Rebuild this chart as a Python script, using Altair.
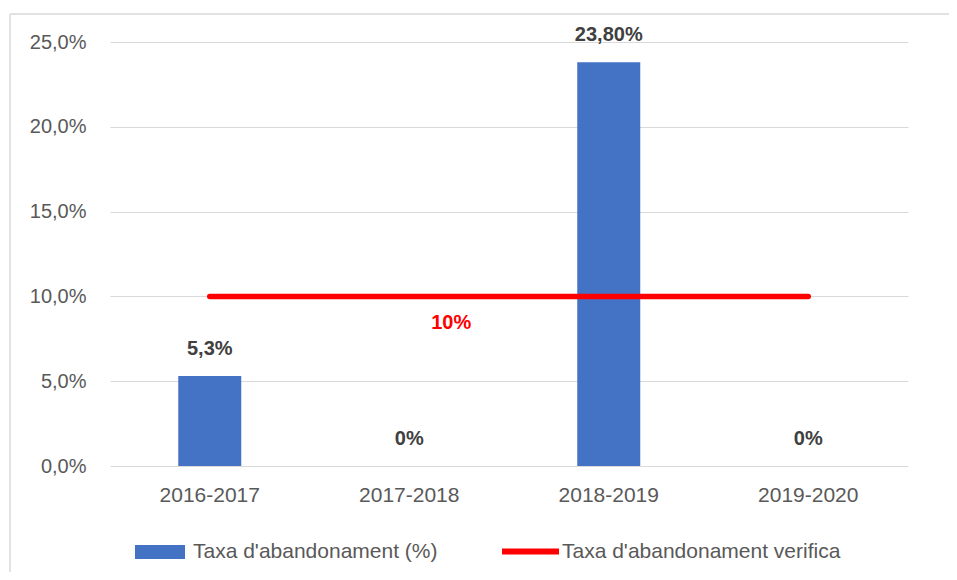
import altair as alt
import pandas as pd

# ---- data ----
categories = ["2016-2017", "2017-2018", "2018-2019", "2019-2020"]
dropout_rate = [5.3, 0.0, 23.8, 0.0]            # Taxa d'abandonament (%)
dropout_labels = ["5,3%", "0%", "23,80%", "0%"]
verified_rate = [10.0, 10.0, 10.0, 10.0]        # Taxa d'abandonament verifica
verified_label_cat = ["2017-2018"]
verified_label_val = [10.0]
verified_label_txt = ["10%"]
y_ticks = [0, 5, 10, 15, 20, 25]

series_bar = "Taxa d'abandonament (%)"
series_line = "Taxa d'abandonament verifica"

bars_df = pd.DataFrame({"cat": categories, "val": dropout_rate,
                        "lbl": dropout_labels, "serie": series_bar})
line_df = pd.DataFrame({"cat": categories, "val": verified_rate,
                        "serie": series_line})
line_lbl_df = pd.DataFrame({"cat": verified_label_cat, "val": verified_label_val,
                            "lbl": verified_label_txt})

FONT = "Liberation Sans"
GRAY = "#595959"
BLUE = "#4472C4"
RED = "#FF0000"

x_enc = alt.X("cat:N", sort=categories, title=None,
              scale=alt.Scale(paddingInner=0.685, paddingOuter=0.3425),
              axis=alt.Axis(labelAngle=0, labelFontSize=21, labelColor=GRAY,
                            labelFont=FONT, ticks=False, domain=False,
                            labelPadding=18))
y_scale = alt.Scale(domain=[0, 25], nice=False)
y_enc = alt.Y("val:Q", scale=y_scale, title=None,
              axis=alt.Axis(values=y_ticks, grid=True, gridColor="#D9D9D9",
                            gridWidth=1, ticks=False, domain=False,
                            labelFontSize=20, labelColor=GRAY, labelFont=FONT,
                            labelPadding=24,
                            labelExpr="replace(format(datum.value, '.1f'), '.', ',') + '%'"))

bars = alt.Chart(bars_df).mark_bar(size=63).encode(
    x=x_enc,
    y=y_enc,
    fill=alt.Fill("serie:N", title=None,
                  scale=alt.Scale(domain=[series_bar], range=[BLUE]),
                  legend=alt.Legend(orient="none", legendX=25, legendY=485,
                                    symbolType="M-1,-0.28H1V0.28H-1Z",
                                    symbolSize=2500, symbolStrokeWidth=0,
                                    labelFontSize=21, labelColor=GRAY,
                                    labelFont=FONT, labelOffset=8,
                                    labelLimit=400, padding=0)),
)

bar_text = alt.Chart(bars_df).mark_text(
    dy=-27, baseline="middle", align="center", fontSize=20,
    fontWeight="bold", color="#404040", font=FONT
).encode(x=alt.X("cat:N", sort=categories), y=alt.Y("val:Q", scale=y_scale),
         text="lbl:N")

line = alt.Chart(line_df).mark_line(strokeWidth=5.5, strokeCap="round").encode(
    x=alt.X("cat:N", sort=categories),
    y=alt.Y("val:Q", scale=y_scale),
    stroke=alt.Stroke("serie:N", title=None,
                      scale=alt.Scale(domain=[series_line], range=[RED]),
                      legend=alt.Legend(orient="none", legendX=389, legendY=478,
                                        symbolType="stroke", symbolSize=3249,
                                        symbolStrokeWidth=6,
                                        labelFontSize=21, labelColor=GRAY,
                                        labelFont=FONT, labelOffset=0,
                                        labelLimit=400, padding=0)),
)

line_text = alt.Chart(line_lbl_df).mark_text(
    dx=42, dy=27, baseline="middle", align="center", fontSize=20,
    fontWeight="bold", color=RED, font=FONT
).encode(x=alt.X("cat:N", sort=categories), y=alt.Y("val:Q", scale=y_scale),
         text="lbl:N")

# chart-area border (top and left edges, as in the reference)
border_df = alt.Data(values=[{}])
border_top = alt.Chart(border_df).mark_rule(color="#D9D9D9", strokeWidth=1.5).encode(
    x=alt.value(-100), x2=alt.value(900), y=alt.value(-28))
border_left = alt.Chart(border_df).mark_rule(color="#D9D9D9", strokeWidth=1.5).encode(
    x=alt.value(-100), y=alt.value(-28), y2=alt.value(600))

chart = alt.layer(border_top, border_left, bars, bar_text, line, line_text).resolve_scale(
    fill="independent", stroke="independent"
).properties(
    width=798, height=424,
    autosize=alt.AutoSizeParams(type="none"),
    padding={"left": 102, "top": 34, "right": 41, "bottom": 106},
    background="white",
).configure_view(stroke=None)

chart.save("out.html", embed_options={"renderer": "svg", "actions": False})
